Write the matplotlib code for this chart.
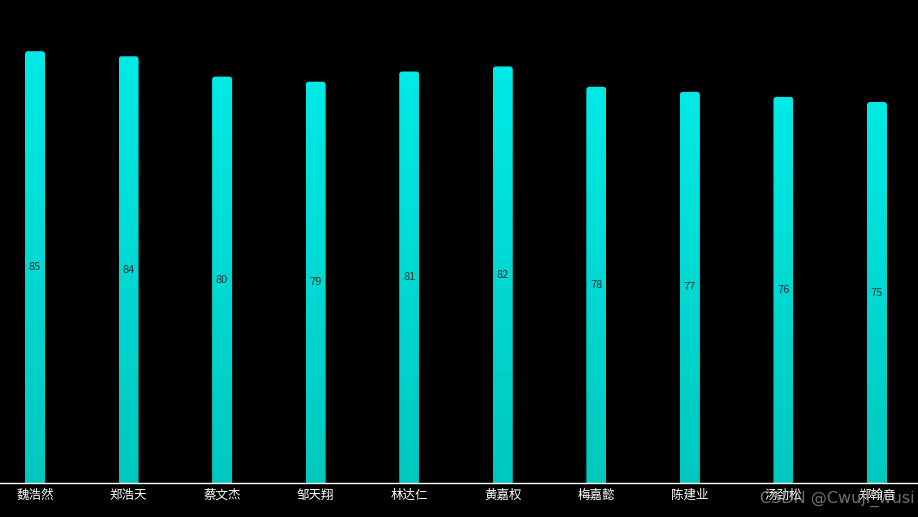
import matplotlib
matplotlib.use("Agg")
import matplotlib.pyplot as plt
import numpy as np
from matplotlib.patches import FancyBboxPatch
from matplotlib.colors import LinearSegmentedColormap

plt.rcParams['font.family'] = ['Noto Sans CJK SC', 'DejaVu Sans']

names = ["魏浩然", "郑浩天", "蔡文杰", "邹天翔", "林达仁", "黄嘉权", "梅嘉懿", "陈建业", "汤劲松", "郑翰音"]
scores = [85, 84, 80, 79, 81, 82, 78, 77, 76, 75]

W, H, DPI = 918, 517, 100
fig = plt.figure(figsize=(W / DPI, H / DPI), dpi=DPI, facecolor="black")

axis_px = 483
ax = fig.add_axes([0, (H - axis_px) / H, 1, axis_px / H])
ax.set_facecolor("black")

px_per_x = 842 / 9
x0_px = 35
px_per_y = 5.08

bar_w = 20 / px_per_x
cmap = LinearSegmentedColormap.from_list("g", ["#00c8bf", "#00eae6"])
grad = np.linspace(0, 1, 256).reshape(-1, 1)

x = np.arange(len(names))
bars = ax.bar(x, scores, width=bar_w, color="none", edgecolor="none")
r_px = 3
for b, v in zip(bars, scores):
    bx, bw = b.get_x(), b.get_width()
    patch = FancyBboxPatch((bx, -5), bw, v + 5,
                           boxstyle=f"round,pad=0,rounding_size={r_px / px_per_x}",
                           mutation_aspect=(1 / px_per_y) / (1 / px_per_x),
                           facecolor="none", edgecolor="none")
    ax.add_patch(patch)
    im = ax.imshow(grad, extent=(bx, bx + bw, 0, v), origin="lower",
                   cmap=cmap, aspect="auto", zorder=2, interpolation="bilinear")
    im.set_clip_path(patch)
    ax.text(b.get_x() + bw / 2, v / 2, str(v), ha="center", va="center",
            color="#333333", fontsize=8, zorder=3)

ax.set_xlim(-x0_px / px_per_x, (W - x0_px) / px_per_x)
ax.set_ylim(0, axis_px / px_per_y)

for s in ["top", "right", "left"]:
    ax.spines[s].set_visible(False)
ax.spines["bottom"].set_color("white")
ax.spines["bottom"].set_linewidth(1)
ax.set_yticks([])
ax.set_xticks(x)
ax.set_xticklabels(names, color="white", fontsize=9)
ax.tick_params(axis="x", length=0, pad=4)

fig.text(915 / W, 1 - 499 / H, "CSDN @Cwuji_wusi", ha="right", va="center",
         color="#bbbbbb", alpha=0.6, fontsize=11.5, family=["DejaVu Sans"])

fig.savefig("out.png", dpi=DPI, facecolor="black")
